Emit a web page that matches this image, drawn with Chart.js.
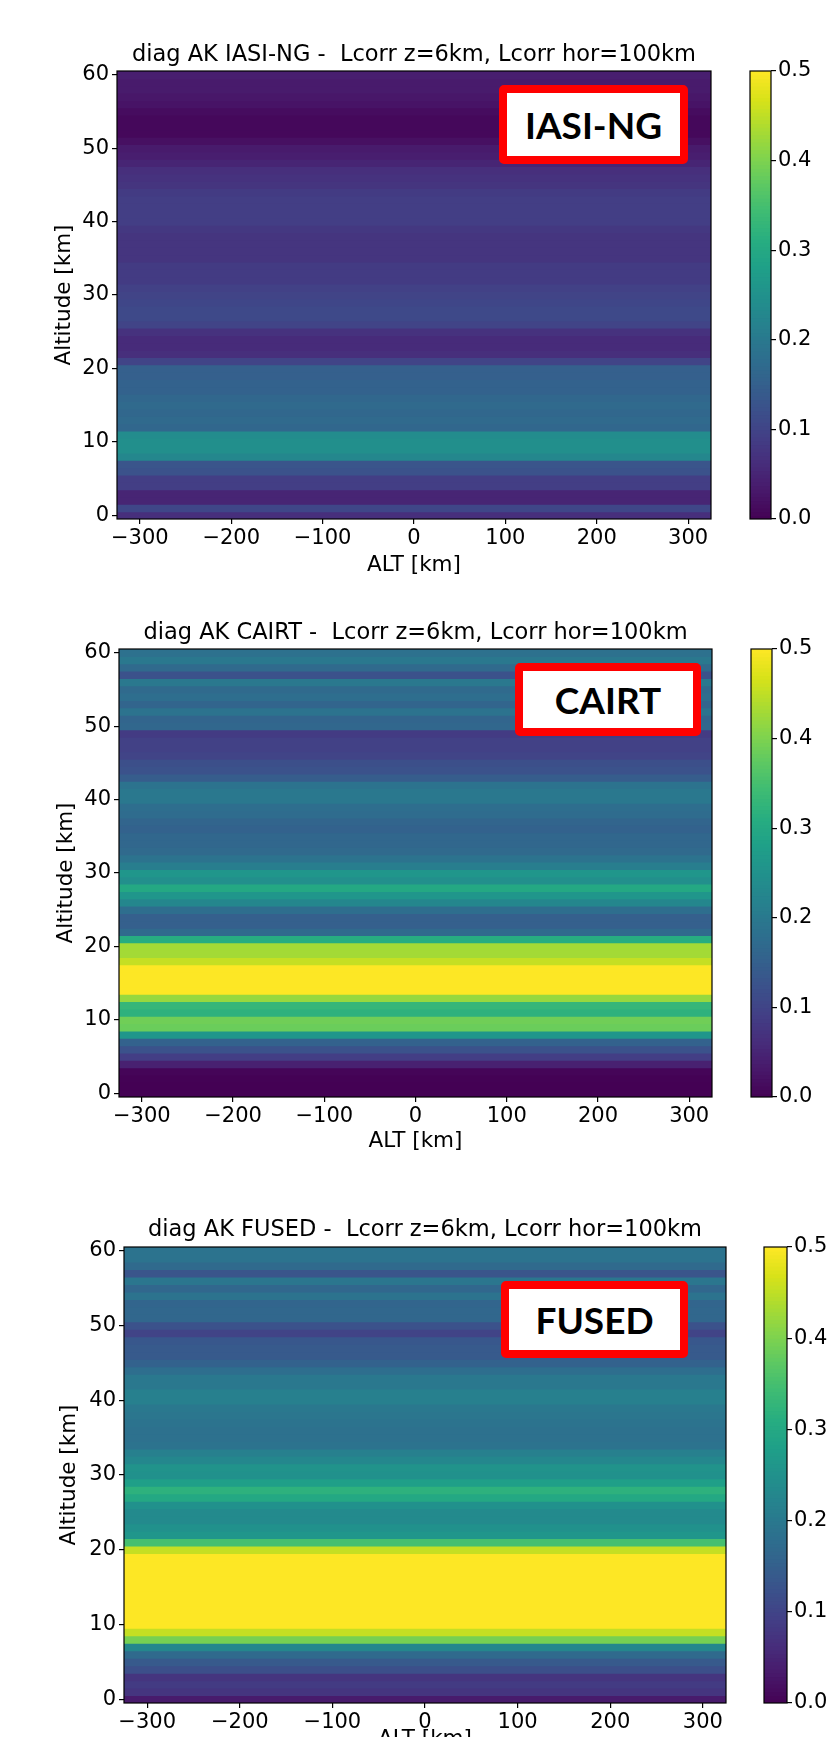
<!DOCTYPE html>
<html><head><meta charset="utf-8">
<script src="https://cdn.jsdelivr.net/npm/chart.js@4.4.1/dist/chart.umd.min.js"></script>
<style>
html,body{margin:0;padding:0;background:#fff;}
body{width:831px;height:1737px;position:relative;overflow:hidden;}
canvas{position:absolute;}
.tag{position:absolute;box-sizing:border-box;border:8px solid #ff0000;border-radius:5px;background:#fff;
 font-family:Lato,'Open Sans',sans-serif;font-weight:700;font-size:37px;color:#000;
 display:flex;align-items:center;justify-content:center;line-height:1;}
</style></head><body>
<canvas id="p0"></canvas><canvas id="c0"></canvas>
<canvas id="p1"></canvas><canvas id="c1"></canvas>
<canvas id="p2"></canvas><canvas id="c2"></canvas>
<script>
// ---------------- data ----------------
const altitudeKm = [0,1,2,3,4,5,6,7,8,9,10,11,12,13,14,15,16,17,18,19,20,21,22,23,24,25,26,27,28,29,30,
  31,32,33,34,35,36,37,38,39,40,41,42,43,44,45,46,47,48,49,50,51,52,53,54,55,56,57,58,59,60];
const altEdgesKm = [-325, 325];
const altTicksKm = [-300,-200,-100,0,100,200,300];
const altitudeTicks = [0,10,20,30,40,50,60];
const colorbarTicks = [0.0,0.1,0.2,0.3,0.4,0.5];
const akIasiNg = [0.065,0.105,0.05,0.05,0.09,0.09,0.125,0.13,0.23,0.245,
  0.245,0.24,0.165,0.17,0.165,0.17,0.165,0.155,0.155,0.15,
  0.15,0.10,0.065,0.06,0.06,0.07,0.10,0.11,0.11,0.105,
  0.10,0.095,0.085,0.085,0.085,0.075,0.075,0.075,0.075,0.08,
  0.09,0.09,0.09,0.09,0.085,0.075,0.07,0.065,0.05,0.04,
  0.035,0.02,0.01,0.01,0.01,0.015,0.025,0.03,0.035,0.035,0.04];
const akCairt = [0.0,0.0,0.002,0.005,0.045,0.09,0.125,0.155,0.26,0.385,
  0.39,0.32,0.33,0.42,0.5,0.5,0.5,0.5,0.455,0.43,
  0.43,0.31,0.17,0.15,0.15,0.18,0.23,0.26,0.30,0.245,
  0.26,0.21,0.19,0.17,0.165,0.165,0.155,0.16,0.175,0.18,
  0.2,0.2,0.19,0.145,0.125,0.12,0.1,0.095,0.095,0.085,
  0.165,0.16,0.19,0.16,0.18,0.17,0.2,0.125,0.17,0.2,0.185];
const akFused = [0.035,0.075,0.085,0.075,0.12,0.14,0.17,0.23,0.395,0.455,
  0.5,0.5,0.5,0.5,0.5,0.5,0.5,0.5,0.5,0.5,
  0.455,0.35,0.26,0.25,0.235,0.235,0.25,0.30,0.32,0.28,
  0.25,0.255,0.23,0.215,0.19,0.185,0.185,0.19,0.195,0.2,
  0.215,0.215,0.2,0.2,0.18,0.155,0.14,0.14,0.135,0.1,
  0.125,0.165,0.165,0.16,0.19,0.165,0.195,0.13,0.17,0.19,0.19];
const panelTitles = ['diag AK IASI-NG -  Lcorr z=6km, Lcorr hor=100km',
  'diag AK CAIRT -  Lcorr z=6km, Lcorr hor=100km',
  'diag AK FUSED -  Lcorr z=6km, Lcorr hor=100km'];
const tagLabels = ['IASI-NG','CAIRT','FUSED'];
const panelValues = [akIasiNg, akCairt, akFused];
const vMin = 0, vMax = 0.5;

// ---------------- layout (page pixels) ----------------
const layouts = [
  {cl:0, ct:30, cw:740, area:{l:117,r:711,t:71,b:519}, titleY:55, yTitleX:64, xTitleY:565,
   cb:{cl:740, cw:91, l:750, r:771}, tag:{l:499,t:85,w:189,h:79}},
  {cl:0, ct:608, cw:740, area:{l:119,r:712,t:649,b:1097}, titleY:633, yTitleX:66, xTitleY:1141,
   cb:{cl:740, cw:91, l:751, r:772}, tag:{l:515,t:663,w:186,h:73}},
  {cl:0, ct:1185, cw:755, area:{l:124,r:726,t:1247,b:1703}, titleY:1230, yTitleX:69, xTitleY:1739,
   cb:{cl:755, cw:76, l:764, r:787}, tag:{l:501,t:1281,w:187,h:77}}
];
const X_AXIS_H = 70;
const TITLE_FS = 22.5, TICK_FS = 21, LABEL_FS = 21.5, LH = 1.2;

// ---------------- viridis ----------------
const VIRIDIS = ['#440154','#48186a','#472d7b','#424086','#3b528b','#33638d','#2c728e','#26828e',
  '#21918c','#1fa088','#28ae80','#3fbc73','#5ec962','#84d44b','#addc30','#d8e219','#fde725'];
function hex(h){return [1,3,5].map(i=>parseInt(h.substr(i,2),16));}
function viridis(v){
  let t=(v-vMin)/(vMax-vMin); t=Math.max(0,Math.min(1,t));
  const f=t*16, i=Math.min(15,Math.floor(f)), u=f-i;
  const a=hex(VIRIDIS[i]), b=hex(VIRIDIS[i+1]);
  const c=a.map((x,k)=>Math.round(x+(b[k]-x)*u));
  return `rgb(${c[0]},${c[1]},${c[2]})`;
}
const fmtMinus = v => String(v).replace('-', '\u2212');

Chart.defaults.font.family = "'DejaVu Sans', sans-serif";
Chart.defaults.color = '#000';

const framePlugin = {id:'frame', afterDatasetsDraw(chart){
  const {ctx, chartArea:a} = chart;
  ctx.save(); ctx.strokeStyle='#000'; ctx.lineWidth=1.2;
  ctx.strokeRect(a.left, a.top, a.right-a.left, a.bottom-a.top); ctx.restore();
}};

const tickGrid = {display:true, drawOnChartArea:false, drawTicks:true, tickLength:5, color:'#000', lineWidth:1.2, offset:false};

layouts.forEach((L, idx) => {
  const values = panelValues[idx];
  const canvas = document.getElementById('p'+idx);
  const ch = L.area.b + X_AXIS_H - L.ct;
  canvas.width = L.cw; canvas.height = ch;
  canvas.style.left = L.cl+'px'; canvas.style.top = L.ct+'px';
  canvas.style.width = L.cw+'px'; canvas.style.height = ch+'px';
  const tlh = TITLE_FS*LH, alh = LABEL_FS*LH;
  const tPadTop = L.titleY - L.ct - tlh/2;
  const tPadBot = L.area.t - L.ct - tlh - tPadTop;
  new Chart(canvas, {
    type:'bar',
    data:{datasets:[{
      data: altitudeKm.map(a => ({x:[altEdgesKm[0], altEdgesKm[1]], y:a})),
      backgroundColor: values.map(viridis),
      borderWidth:0, barPercentage:1.15, categoryPercentage:1, clip:0
    }]},
    options:{
      indexAxis:'y', responsive:false, animation:false, events:[],
      layout:{padding:{left:0, top:0, bottom:0, right:(L.cl+L.cw)-L.area.r}},
      plugins:{legend:{display:false}, tooltip:{enabled:false},
        title:{display:true, fullSize:false, text:panelTitles[idx], color:'#000',
          font:{size:TITLE_FS, weight:'normal', lineHeight:LH}, padding:{top:tPadTop, bottom:tPadBot}}},
      scales:{
        x:{type:'linear', min:altEdgesKm[0], max:altEdgesKm[1], offset:false,
          afterBuildTicks:s=>{s.ticks = altTicksKm.map(v=>({value:v}));},
          afterFit:s=>{s.height = X_AXIS_H;},
          ticks:{autoSkip:false, maxRotation:0, padding:1.5, font:{size:TICK_FS}, color:'#000', callback:v=>fmtMinus(v)},
          grid:tickGrid, border:{display:false},
          title:{display:true, text:'ALT [km]', color:'#000', font:{size:LABEL_FS, lineHeight:LH},
            padding:{top:0, bottom:(L.area.b+X_AXIS_H) - L.xTitleY - alh/2}}},
        y:{type:'linear', min:altitudeKm[0]-0.5, max:altitudeKm[altitudeKm.length-1]+0.5, offset:false,
          afterBuildTicks:s=>{s.ticks = altitudeTicks.map(v=>({value:v}));},
          afterFit:s=>{s.width = L.area.l - L.cl;},
          ticks:{autoSkip:false, padding:3, font:{size:TICK_FS}, color:'#000', callback:v=>String(v)},
          grid:tickGrid, border:{display:false},
          title:{display:true, text:'Altitude [km]', color:'#000', font:{size:LABEL_FS, lineHeight:LH},
            padding:{top:L.yTitleX - L.cl - alh/2, bottom:0}}}
      }
    },
    plugins:[framePlugin]
  });

  // colorbar
  const cbc = document.getElementById('c'+idx);
  cbc.width = L.cb.cw; cbc.height = ch;
  cbc.style.left = L.cb.cl+'px'; cbc.style.top = L.ct+'px';
  cbc.style.width = L.cb.cw+'px'; cbc.style.height = ch+'px';
  const N = 120;
  const levels = Array.from({length:N}, (_,i) => vMin + (i+0.5)*(vMax-vMin)/N);
  new Chart(cbc, {
    type:'bar',
    data:{datasets:[{data: levels.map(v=>({x:[0,1], y:v})), backgroundColor: levels.map(viridis),
      borderWidth:0, barPercentage:1.4, categoryPercentage:1, clip:0}]},
    options:{
      indexAxis:'y', responsive:false, animation:false, events:[],
      layout:{padding:{left:L.cb.l-L.cb.cl, right:0, top:L.area.t-L.ct, bottom:(L.ct+ch)-L.area.b}},
      plugins:{legend:{display:false}, tooltip:{enabled:false}},
      scales:{
        x:{type:'linear', min:0, max:1, display:false, offset:false},
        y:{type:'linear', position:'right', min:vMin, max:vMax, offset:false,
          afterBuildTicks:s=>{s.ticks = colorbarTicks.map(v=>({value:v}));},
          afterFit:s=>{s.width = (L.cb.cl+L.cb.cw) - L.cb.r;},
          ticks:{autoSkip:false, padding:2, font:{size:TICK_FS}, color:'#000', callback:v=>Number(v).toFixed(1)},
          grid:tickGrid, border:{display:false}}
      }
    },
    plugins:[framePlugin]
  });

  // label tag
  const tag = document.createElement('div');
  tag.className = 'tag'; tag.textContent = tagLabels[idx];
  tag.style.left = L.tag.l+'px'; tag.style.top = L.tag.t+'px';
  tag.style.width = L.tag.w+'px'; tag.style.height = L.tag.h+'px';
  document.body.appendChild(tag);
});
</script>
</body></html>
